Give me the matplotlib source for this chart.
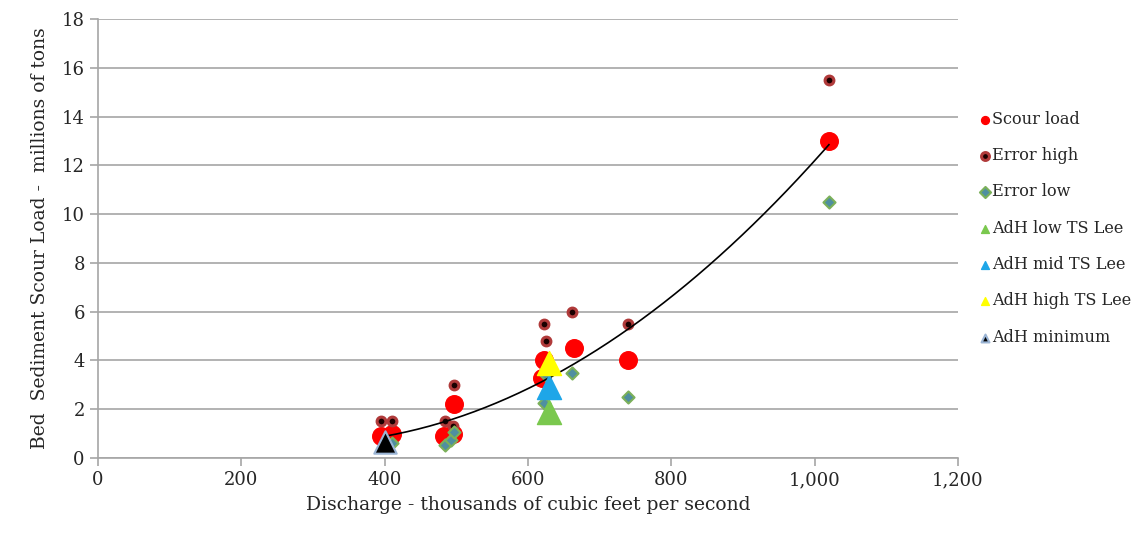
import numpy as np
import matplotlib.pyplot as plt
from matplotlib.ticker import FuncFormatter, MultipleLocator

plt.rcParams['font.family'] = ['DejaVu Serif']

# discharge (thousand cfs) and loads (million tons)
scour_x = [395, 410, 483, 495, 497, 620, 622, 664, 740, 1020]
scour_y = [0.9, 1.0, 0.9, 1.0, 2.2, 3.3, 4.0, 4.5, 4.0, 13.0]

high_x = [395, 410, 484, 495, 497, 622, 625, 661, 740, 1020]
high_y = [1.5, 1.5, 1.5, 1.3, 3.0, 5.5, 4.8, 6.0, 5.5, 15.5]

low_x = [400, 410, 484, 493, 497, 622, 625, 661, 740, 1020]
low_y = [0.5, 0.6, 0.53, 0.75, 1.05, 2.25, 3.4, 3.5, 2.5, 10.5]

adh_low = (630, 1.9)
adh_mid = (630, 2.9)
adh_high = (630, 3.9)
adh_min = (400, 0.65)

fig = plt.figure(figsize=(11.45, 5.35), dpi=100)
ax = fig.add_axes([0.0856, 0.1439, 0.751, 0.8206])

ax.scatter(scour_x, scour_y, s=160, color='#ff0000', label='Scour load', zorder=3)
ax.scatter(high_x, high_y, s=40, facecolor='#1a0000', edgecolor='#b03a3a', linewidth=2.2,
           label='Error high', zorder=4)
ax.scatter(low_x, low_y, s=38, marker='D', facecolor='#4f8fa0', edgecolor='#7bb05a', linewidth=1.5,
           label='Error low', zorder=4)

# order-2 trendline through scour load
coef = np.polyfit(scour_x, scour_y, 2)
xt = np.linspace(400, 1020, 200)
ax.plot(xt, np.polyval(coef, xt), color='black', lw=1.2, zorder=5)

ax.scatter(*adh_low, s=300, marker='^', color='#7ac84e', label='AdH low TS Lee', zorder=6)
ax.scatter(*adh_mid, s=300, marker='^', color='#1ea6e8', label='AdH mid TS Lee', zorder=6)
ax.scatter(*adh_high, s=300, marker='^', color='#ffff00', label='AdH high TS Lee', zorder=6)
ax.scatter(*adh_min, s=260, marker='^', facecolor='black', edgecolor='#9ab4d4', linewidth=1.5,
           label='AdH minimum', zorder=7)

ax.set_xlim(0, 1200)
ax.set_ylim(0, 18)
ax.xaxis.set_major_locator(MultipleLocator(200))
ax.yaxis.set_major_locator(MultipleLocator(2))
ax.xaxis.set_major_formatter(FuncFormatter(lambda v, p: f'{int(v):,}'))
ax.grid(axis='y', color='#a6a6a6', lw=1.2)
ax.set_axisbelow(True)
for s in ['top', 'right']:
    ax.spines[s].set_visible(False)
for s in ['left', 'bottom']:
    ax.spines[s].set_color('#a6a6a6')
    ax.spines[s].set_linewidth(1.2)
ax.tick_params(colors='#a6a6a6', width=1.2, length=6, labelcolor='#262626', labelsize=13)

ax.set_xlabel('Discharge - thousands of cubic feet per second', fontsize=13.5, color='#262626', labelpad=5)
ax.set_ylabel('Bed  Sediment Scour Load -  millions of tons', fontsize=13.5, color='#262626', labelpad=9)

leg = fig.legend(loc='upper left', bbox_to_anchor=(0.842, 0.82), frameon=False, fontsize=11.6,
                 handletextpad=0.05, labelspacing=1.2, handlelength=0.8)
for h in leg.legend_handles:
    h.set_sizes([32])
for t in leg.get_texts():
    t.set_color('#262626')

fig.savefig('out.png', dpi=100)
